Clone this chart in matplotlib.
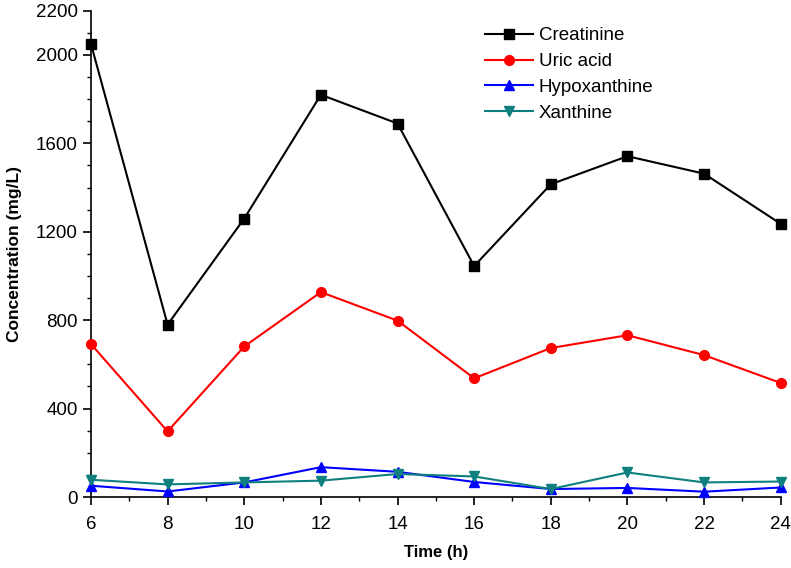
import matplotlib
matplotlib.use("Agg")
import matplotlib.pyplot as plt
import numpy as np
from matplotlib.ticker import MultipleLocator

plt.rcParams['font.family'] = ['Liberation Sans', 'DejaVu Sans']

time_h = [6, 8, 10, 12, 14, 16, 18, 20, 22, 24]
creatinine = [2050, 780, 1260, 1820, 1690, 1045, 1415, 1542, 1463, 1236]
uric_acid = [692, 297, 681, 927, 798, 537, 674, 732, 642, 516]
hypoxanthine = [51, 25, 66, 135, 114, 68, 36, 41, 24, 43]
xanthine = [78, 57, 66, 74, 104, 93, 36, 111, 66, 70]

fig = plt.figure(figsize=(7.91, 5.68), dpi=100)
ax = fig.add_axes([0.115, 0.125, 0.872, 0.856])

ax.plot(time_h, creatinine, color='black', marker='s', markersize=6.5, lw=1.5, label='Creatinine', clip_on=False, zorder=4)
ax.plot(time_h, uric_acid, color='red', marker='o', markersize=7, lw=1.5, label='Uric acid', clip_on=False, zorder=3)
ax.plot(time_h, hypoxanthine, color='blue', marker='^', markersize=7, lw=1.5, label='Hypoxanthine', clip_on=False, zorder=3)
ax.plot(time_h, xanthine, color='#0f7f7f', marker='v', markersize=7, lw=1.5, label='Xanthine', clip_on=False, zorder=3)

ax.set_xlim(6, 24)
ax.set_ylim(0, 2200)
ax.set_xticks(np.arange(6, 25, 2))
ax.xaxis.set_minor_locator(MultipleLocator(1))
ax.set_yticks([0, 400, 800, 1200, 1600, 2000, 2200])
ax.yaxis.set_minor_locator(MultipleLocator(100))
ax.tick_params(which='major', direction='out', length=6, width=1.2, labelsize=13.5)
ax.tick_params(which='minor', direction='out', length=3, width=1.0)
ax.tick_params(axis='x', which='major', pad=8)

for s in ['top', 'right']:
    ax.spines[s].set_visible(False)
for s in ['left', 'bottom']:
    ax.spines[s].set_linewidth(1.2)

ax.set_xlabel('Time (h)', fontsize=12, fontweight='bold', labelpad=8)
ax.set_ylabel('Concentration (mg/L)', fontsize=12.5, fontweight='bold', labelpad=10)

ax.legend(loc='upper left', bbox_to_anchor=(0.571, 0.966), frameon=False, fontsize=13.5,
          handlelength=2.56, handletextpad=0.32, labelspacing=0.46,
          borderpad=0, borderaxespad=0)

fig.savefig('out.png', dpi=100)
